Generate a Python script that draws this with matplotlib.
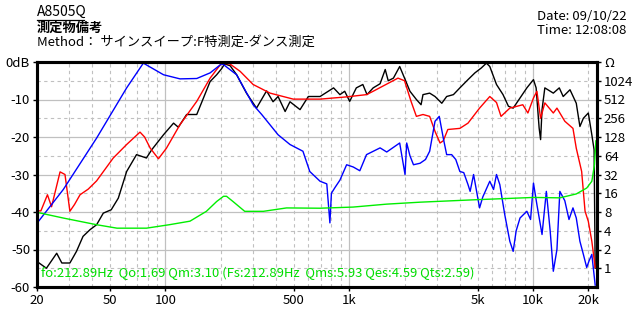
import numpy as np
import matplotlib
matplotlib.use('Agg')
import matplotlib.pyplot as plt
from matplotlib.lines import Line2D

plt.rcParams['font.family'] = ['Noto Sans CJK JP', 'DejaVu Sans']

# %%
# data
blue_f = [20, 27.8, 42.2, 61.5, 75.8, 97.6, 120, 148, 175, 202, 207, 244, 300, 334, 410, 476, 560, 610,
          694, 755, 785, 800, 836, 890, 968, 1052, 1142, 1242, 1472, 1600, 1882, 2012, 2055, 2140, 2237,
          2430, 2600, 2740, 2930, 3090, 3250, 3390, 3610, 3800, 4000, 4200, 4430, 4550, 4750, 5120, 5330,
          5820, 6100, 6330, 6600, 7020, 7480, 7800, 8100, 8500, 9260, 9700, 10060, 10500, 11200, 11820,
          12400, 12900, 13500, 14000, 14900, 15700, 16500, 17200, 18000, 18800, 19600, 20200, 20900, 21800]
blue_db = [-43, -34, -20.3, -6.9, -0.3, -3.4, -4.5, -4.4, -2.9, -0.5, -0.7, -3.4, -11.4, -14, -19.4, -22, -23.8, -29.2,
           -31.8, -32.5, -42.9, -35, -33.5, -31.5, -27.4, -28, -29, -24.7, -22.9, -24, -21.6, -30, -21.6, -25, -27.4,
           -27, -26, -23.8, -15.8, -14.5, -20.3, -24.7, -24.7, -26, -29.2, -29.5, -32.7, -34.5, -30, -38.9, -36,
           -31.8, -34, -30, -32.7, -40.7, -47.8, -50.5, -45, -41.6, -39.8, -42, -32.3, -38, -46, -34.5,
           -45, -55.8, -50, -34.5, -37, -42, -38.9, -41.6, -47.8, -51.3, -54.8, -53, -51.3, -59.5]

red_f = [20, 21, 22.8, 24, 26.7, 28.4, 30.2, 32, 34.3, 38, 42.2, 52, 61.5, 72.7, 77, 82.7, 91.6, 101.2,
         120, 148, 175, 202, 224, 255, 300, 371, 496, 694, 968, 1242, 1350, 1598, 1842, 2000, 2170, 2320,
         2520, 2740, 2930, 3120, 3250, 3440, 4000, 4430, 5120, 5820, 6330, 6700, 7480, 8800, 9380, 10060,
         10500, 11000, 11600, 12900, 13500, 14900, 16500, 17200, 18400, 19200, 20000, 20900, 21800]
red_db = [-39.7, -39.7, -35.4, -38.6, -29.3, -30, -39.8, -38, -35.4, -33.9, -31.7, -25.6, -22, -18.7, -20, -23, -25.8, -23,
          -16.7, -10.5, -4.3, -0.3, -0.5, -2.5, -6, -8.3, -9.9, -9.9, -9.3, -8.7, -7.8, -5.9, -4.3, -5, -10.5, -14.5,
          -14, -14.5, -18.5, -21.6, -21, -18, -17.7, -16.3, -12.3, -9.2, -10.8, -14.5, -12.3, -11.4, -13.6, -9.6,
          -7.8, -15, -10.9, -13.6, -12.3, -15.8, -17.7, -23, -29.2, -39.8, -42.5, -47.8, -54.8]

black_f = [20, 22.5, 25.6, 27.3, 30.2, 32.8, 35.6, 38.9, 42.2, 45.9, 50.7, 55.4, 61.5, 69.6, 78.8, 84.2, 97.6,
           110.7, 117.5, 130.4, 148, 161, 175, 190, 202, 210, 225, 244, 276, 313, 355, 385, 410, 448, 476, 540,
           599, 694, 822, 890, 945, 1006, 1093, 1186, 1250, 1350, 1472, 1570, 1630, 1740, 1882, 2000, 2140, 2320,
           2460, 2520, 2740, 2930, 3190, 3390, 3690, 4000, 4430, 4830, 5230, 5580, 5820, 6330, 6870, 7350, 7800,
           8500, 9260, 10060, 10400, 10800, 11000, 11200, 11600, 12900, 13900, 14600, 15900, 17200, 18000, 18800,
           20000, 20900, 21500, 21800]
black_db = [-53.2, -55, -51, -53.6, -53.6, -50.5, -46.5, -44.7, -43.4, -40.3, -39.4, -36.3, -29.2, -24.7, -25.6, -23.4, -19.4,
            -16.3, -17.4, -14, -14, -9.6, -5.2, -3.4, -1.8, -0.5, -1, -3.4, -8.3, -12.3, -7.7, -10.6, -9.2, -13.2, -10.6, -12.7,
            -9.2, -9.2, -6.9, -8.7, -7.8, -10.5, -6.9, -6, -8.7, -6.9, -5.8, -2, -5, -4.3, -1.2, -4.3, -7.8, -10,
            -11.4, -8.7, -8.3, -9.2, -11, -9.2, -8.7, -6.9, -4.7, -2.9, -1.6, -0.3, -1.2, -6, -8.7, -11.8, -12.3,
            -9.6, -6.9, -4.7, -6.9, -17.6, -20.7, -12.7, -6.9, -8.3, -6.9, -9.2, -7.4, -11, -17.2, -15,
            -13.6, -19.4, -23.4, -55]

imp_f = [20, 27.8, 42.2, 54.5, 78.8, 105, 136, 167, 190, 207, 215, 233, 270, 341, 456, 694, 1050, 1598,
         2430, 4900, 10060, 14000, 17200, 19600, 20900, 21600, 22000]
imp_ohm = [7.9, 6.4, 5.0, 4.4, 4.4, 5.0, 5.7, 8.2, 11.8, 14.3, 14.3, 11.8, 8.2, 8.2, 9.3, 9.2, 9.6, 10.7,
           11.5, 12.6, 13.7, 13.5, 15.6, 19.4, 24.9, 45.9, 111]

x_ticks = [20, 50, 100, 500, 1000, 5000, 10000, 20000]
x_labels = ['20', '50', '100', '500', '1k', '5k', '10k', '20k']
db_ticks = [0, -10, -20, -30, -40, -50, -60]
db_labels = ['0dB', '-10', '-20', '-30', '-40', '-50', '-60']
ohm_ticks = [1, 2, 4, 8, 16, 32, 64, 128, 256, 512, 1024, 2048]
ohm_labels = ['1', '2', '4', '8', '16', '32', '64', '128', '256', '512', '1024', 'Ω']

params = 'fo:212.89Hz  Qo:1.69 Qm:3.10 (Fs:212.89Hz  Qms:5.93 Qes:4.59 Qts:2.59)'

# %%
fig = plt.figure(figsize=(6.33, 3.19), dpi=100)
ax = fig.add_axes([37/633, 32/319, 560/633, 225/319])
ax2 = ax.twinx()

ax.set_xscale('log')
ax.set_xlim(20, 22300)
ax.set_ylim(-60, 0)
ax2.set_yscale('log', base=2)
ax2.set_ylim(0.5, 2048)

# grid
minor_x = [30, 40, 50, 60, 70, 80, 90, 200, 300, 400, 500, 600, 700, 800, 900,
           2000, 3000, 4000, 5000, 6000, 7000, 8000, 9000, 20000]
for f in minor_x:
    ax.axvline(f, color='#c0c0c0', lw=0.8, ls=(0, (3, 3)), zorder=0)
for f in [100, 1000, 10000]:
    ax.axvline(f, color='#c0c0c0', lw=0.9, zorder=0)
for d in range(-55, 0, 10):
    ax.axhline(d, color='#c0c0c0', lw=0.8, ls=(0, (3, 3)), zorder=0)
for d in range(-50, 0, 10):
    ax.axhline(d, color='#c0c0c0', lw=0.9, zorder=0)

ax2.plot(imp_f, imp_ohm, color='#00ee00', lw=1.0)
ax.plot(black_f, black_db, color='black', lw=1.0)
ax.plot(red_f, red_db, color='#ff0000', lw=1.0)
ax.plot(blue_f, blue_db, color='#0000ff', lw=1.0)

ax.set_xticks(x_ticks)
ax.set_xticklabels(x_labels)
ax.xaxis.set_minor_locator(matplotlib.ticker.NullLocator())
ax.set_yticks(db_ticks)
ax.set_yticklabels(db_labels)
ax2.set_yticks(ohm_ticks)
ax2.set_yticklabels(ohm_labels)
ax2.yaxis.set_minor_locator(matplotlib.ticker.NullLocator())

for a in (ax, ax2):
    a.tick_params(labelsize=9.5, length=3, width=1, pad=2)
    for s in a.spines.values():
        s.set_linewidth(2.2)

ax.text(0.007, 0.062, params, transform=ax.transAxes, color='#00dd00', fontsize=9.4,
        va='center', ha='left')

# header
fig.text(37/633, 1 - 12/319, 'A8505Q', fontsize=10, va='center', ha='left')
fig.add_artist(Line2D([37/633, 84/633], [1 - 20/319, 1 - 20/319], color='black', lw=0.9))
fig.text(37/633, 1 - 28/319, '測定物備考', fontsize=9.5, va='center', ha='left', fontweight='bold')
fig.text(37/633, 1 - 42/319, 'Method： サインスイープ:F特測定-ダンス測定', fontsize=9.5, va='center', ha='left')
fig.text(537/633, 1 - 17/319, 'Date: 09/10/22', fontsize=9.5, va='center', ha='left')
fig.text(537/633, 1 - 31/319, 'Time: 12:08:08', fontsize=9.5, va='center', ha='left')

fig.savefig('out.png', dpi=100)
